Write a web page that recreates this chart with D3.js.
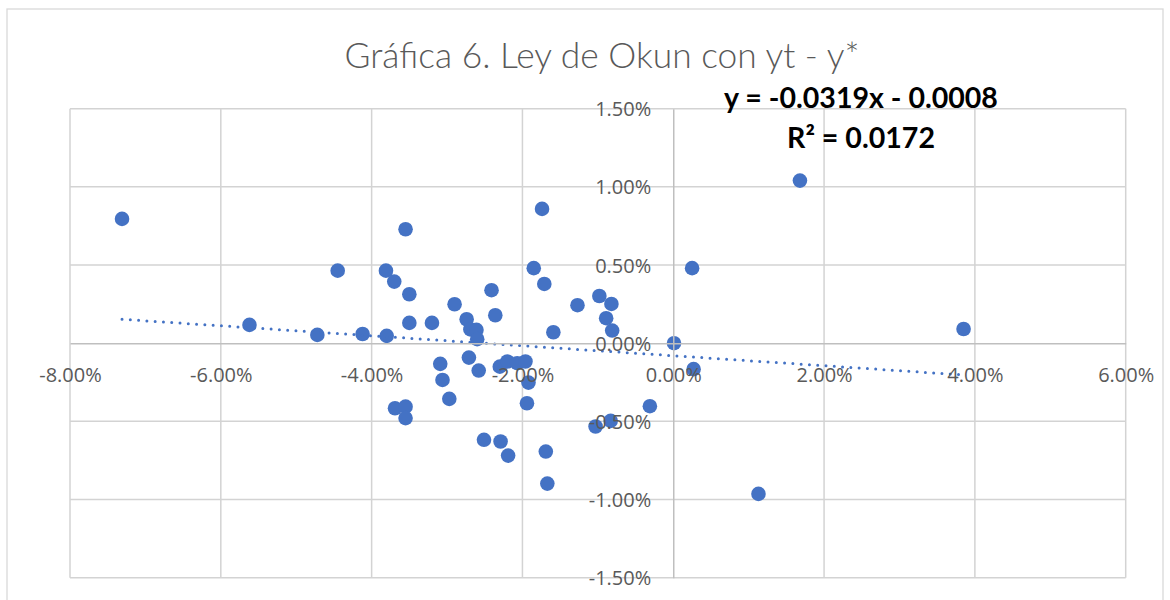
<!DOCTYPE html>
<html>
<head>
<meta charset="utf-8">
<script src="https://cdn.jsdelivr.net/npm/d3@7"></script>
<style>
  body { margin: 0; background: #fff; }
  svg { display: block; }
</style>
</head>
<body>
<div id="grafica"></div>
<script>
// Datos (porcentajes)
const brecha = [-7.31, -5.62, -4.72, -4.45, -4.12, -3.81, -3.80, -3.70, -3.55, -3.50,
  -3.50, -3.20, -3.09, -3.06, -2.97, -2.90, -3.69, -3.55, -3.55, -2.74,
  -2.69, -2.61, -2.60, -2.71, -2.58, -2.51, -2.41, -2.36, -2.29, -2.30,
  -2.20, -2.19, -2.07, -1.96, -1.92, -1.94, -1.85, -1.74, -1.71, -1.69,
  -1.67, -1.59, -1.27, -1.03, -0.98, -0.89, -0.83, -0.82, -0.81, -0.31,
  0.01, 0.25, 0.27, 1.13, 1.68, 3.85];
const desempleo = [0.795, 0.117, 0.053, 0.464, 0.059, 0.464, 0.047, 0.394, 0.729, 0.313,
  0.130, 0.130, -0.132, -0.235, -0.356, 0.249, -0.416, -0.406, -0.479, 0.153,
  0.088, 0.085, 0.026, -0.092, -0.175, -0.618, 0.339, 0.179, -0.629, -0.150,
  -0.117, -0.719, -0.128, -0.117, -0.252, -0.384, 0.480, 0.859, 0.379, -0.693,
  -0.898, 0.070, 0.243, -0.533, 0.302, 0.160, -0.497, 0.251, 0.081, -0.403,
  0.000, 0.480, -0.166, -0.964, 1.040, 0.091];

const xTicks = [-8, -6, -4, -2, 0, 2, 4, 6];
const yTicks = [-1.5, -1.0, -0.5, 0, 0.5, 1.0, 1.5];

// Tendencia lineal (de la ecuación de la gráfica)
const pendiente = -0.0319;
const intercepto = -0.0008;

const titulo = "Gráfica 6. Ley de Okun con yt - y*";
const ecuacion = "y = -0.0319x - 0.0008";
const r2 = "R² = 0.0172";

const width = 1170, height = 600;
const azul = "#4472C4";

const svg = d3.select("#grafica").append("svg")
  .attr("width", width)
  .attr("height", height);

// Borde del área del gráfico
svg.append("rect")
  .attr("x", 7).attr("y", 9)
  .attr("width", 1156).attr("height", 620)
  .attr("fill", "#fff")
  .attr("stroke", "#d9d9d9")
  .attr("stroke-width", 1.3);

const x = d3.scaleLinear().domain([-8, 6]).range([70, 1125.7]);
const y = d3.scaleLinear().domain([-1.5, 1.5]).range([577.7, 108.7]);

const fmt = d => d.toFixed(2) + "%";

// Cuadrícula
svg.append("g")
  .selectAll("line.vx")
  .data(xTicks.filter(d => d !== 0))
  .enter().append("line")
  .attr("x1", d => x(d)).attr("x2", d => x(d))
  .attr("y1", y(1.5)).attr("y2", y(-1.5))
  .style("stroke", "#d3d3d3").style("stroke-width", 1.5);

svg.append("g")
  .selectAll("line.hy")
  .data(yTicks.filter(d => d !== 0))
  .enter().append("line")
  .attr("x1", x(-8)).attr("x2", x(6))
  .attr("y1", d => y(d)).attr("y2", d => y(d))
  .style("stroke", "#d3d3d3").style("stroke-width", 1.5);

// Ejes que cruzan en cero
const ejeX = svg.append("g")
  .attr("transform", `translate(0,${y(0)})`)
  .call(d3.axisBottom(x).tickValues(xTicks).tickFormat(fmt).tickSize(0).tickPadding(0));
ejeX.select(".domain").style("stroke", "#bfbfbf").style("stroke-width", 1.5);

const ejeY = svg.append("g")
  .attr("transform", `translate(${x(0)},0)`)
  .call(d3.axisLeft(y).tickValues(yTicks).tickFormat(fmt).tickSize(0).tickPadding(22));
ejeY.select(".domain").style("stroke", "#bfbfbf").style("stroke-width", 1.5);

// Puntos
svg.append("g")
  .selectAll("circle")
  .data(brecha.map((b, i) => [b, desempleo[i]]))
  .enter().append("circle")
  .attr("cx", d => x(d[0]))
  .attr("cy", d => y(d[1]))
  .attr("r", 7.3)
  .style("fill", azul);

// Línea de tendencia punteada
const xMin = d3.min(brecha), xMax = d3.max(brecha);
const tendencia = [xMin, xMax].map(v => [v, (pendiente * v / 100 + intercepto) * 100]);
svg.append("path")
  .datum(tendencia)
  .attr("d", d3.line().x(d => x(d[0])).y(d => y(d[1])))
  .style("fill", "none")
  .style("stroke", azul)
  .style("stroke-width", 3)
  .style("stroke-linecap", "round")
  .style("stroke-dasharray", "0 8.3");

// Etiquetas de los ejes encima de los puntos
ejeX.raise();
ejeY.raise();
ejeX.selectAll(".tick text")
  .attr("y", 32).attr("dy", "0.35em")
  .style("font-family", "'Open Sans', sans-serif")
  .style("font-size", "20px")
  .style("fill", "#595959");
ejeY.selectAll(".tick text")
  .attr("dy", "0.35em")
  .style("font-family", "'Open Sans', sans-serif")
  .style("font-size", "20px")
  .style("fill", "#595959");

// Ajusta el tamaño de letra a un ancho dado
function ajustar(sel, ancho) {
  const w = sel.node().getComputedTextLength();
  const fs = parseFloat(sel.style("font-size"));
  sel.style("font-size", (fs * ancho / w) + "px");
}

const t = svg.append("text")
  .attr("x", 602).attr("y", 56)
  .attr("text-anchor", "middle")
  .attr("dy", "0.35em")
  .style("font-family", "Lato, sans-serif")
  .style("font-weight", 300)
  .style("font-size", "30px")
  .style("fill", "#595959")
  .text(titulo);
ajustar(t, 515);

const e1 = svg.append("text")
  .attr("x", 861).attr("y", 98)
  .attr("text-anchor", "middle")
  .attr("dy", "0.35em")
  .style("font-family", "Lato, sans-serif")
  .style("font-weight", 700)
  .style("font-size", "24px")
  .style("fill", "#000")
  .text(ecuacion);
ajustar(e1, 274);

const e2 = svg.append("text")
  .attr("x", 861).attr("y", 138)
  .attr("text-anchor", "middle")
  .attr("dy", "0.35em")
  .style("font-family", "Lato, sans-serif")
  .style("font-weight", 700)
  .style("font-size", "24px")
  .style("fill", "#000")
  .text(r2);
ajustar(e2, 148);
</script>
</body>
</html>
